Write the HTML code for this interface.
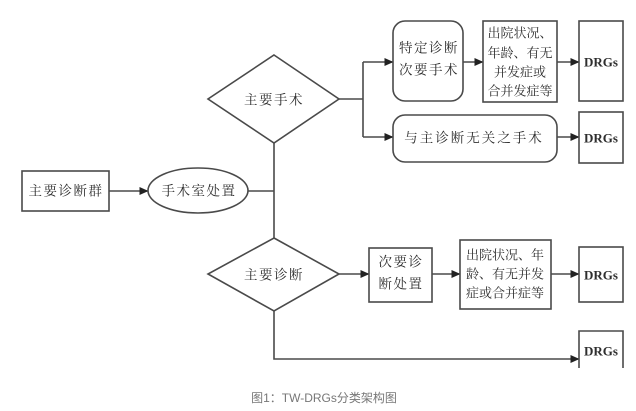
<!DOCTYPE html>
<html>
<head>
<meta charset="utf-8">
<style>
  html, body { margin:0; padding:0; background:#fff; }
  svg { display:block; }
  .t { font-family: "Liberation Serif", "Noto Serif CJK SC", serif; font-size:13.5px; fill:#2e2e2e; letter-spacing:1.5px; }
  .t2 { font-family: "Liberation Serif", "Noto Serif CJK SC", serif; font-size:13px; fill:#2e2e2e; }
  .d { font-family: "Liberation Serif", serif; font-size:13px; fill:#2e2e2e; font-weight:bold; }
  .cap { font-family: "Liberation Sans", "Noto Sans CJK SC", sans-serif; font-size:12px; fill:#777; }
  .s { fill:none; stroke:#4a4a4a; stroke-width:1.6; }
</style>
</head>
<body>
<svg width="636" height="411" viewBox="0 0 636 411" xmlns="http://www.w3.org/2000/svg">
  <defs>
    <marker id="ar" markerWidth="9" markerHeight="8" refX="8.5" refY="4" orient="auto" markerUnits="userSpaceOnUse">
      <path d="M0,0 L9,4 L0,8 Z" fill="#222"/>
    </marker>
  </defs>

  <!-- 主要诊断群 -->
  <rect x="22" y="171" width="87" height="40" class="s"/>
  <text x="66" y="191" class="t" text-anchor="middle" dominant-baseline="central">主要诊断群</text>
  <line x1="109" y1="191" x2="148" y2="191" class="s" marker-end="url(#ar)"/>

  <!-- 手术室处置 -->
  <ellipse cx="198" cy="190.5" rx="50" ry="22.5" class="s"/>
  <text x="199" y="191" class="t" text-anchor="middle" dominant-baseline="central">手术室处置</text>
  <line x1="248" y1="191" x2="274" y2="191" class="s"/>

  <!-- vertical trunk -->
  <line x1="274" y1="143" x2="274" y2="238" class="s"/>

  <!-- 主要手术 diamond -->
  <polygon points="274,55 339,99 274,143 208,99" class="s"/>
  <text x="274" y="100" class="t" text-anchor="middle" dominant-baseline="central">主要手术</text>

  <!-- branch -->
  <polyline points="339,99 363,99" class="s"/>
  <line x1="363" y1="62" x2="363" y2="137" class="s"/>
  <line x1="363" y1="62" x2="393" y2="62" class="s" marker-end="url(#ar)"/>
  <line x1="363" y1="137" x2="393" y2="137" class="s" marker-end="url(#ar)"/>

  <!-- 特定诊断 次要手术 -->
  <rect x="393" y="21" width="70" height="80" rx="12" ry="12" class="s"/>
  <text x="429" y="48" class="t" text-anchor="middle" dominant-baseline="central">特定诊断</text>
  <text x="429" y="70" class="t" text-anchor="middle" dominant-baseline="central">次要手术</text>
  <line x1="463" y1="62" x2="483" y2="62" class="s" marker-end="url(#ar)"/>

  <!-- 出院状况 box top -->
  <rect x="483" y="21" width="74" height="81" class="s"/>
  <text x="520" y="33" class="t2" text-anchor="middle" dominant-baseline="central">出院状况、</text>
  <text x="520" y="53" class="t2" text-anchor="middle" dominant-baseline="central">年龄、有无</text>
  <text x="520" y="72" class="t2" text-anchor="middle" dominant-baseline="central">并发症或</text>
  <text x="520" y="91" class="t2" text-anchor="middle" dominant-baseline="central">合并发症等</text>
  <line x1="557" y1="62" x2="579" y2="62" class="s" marker-end="url(#ar)"/>

  <!-- DRGs 1 -->
  <rect x="579" y="21" width="44" height="80" class="s"/>
  <text x="601" y="62" class="d" text-anchor="middle" dominant-baseline="central">DRGs</text>

  <!-- 与主诊断无关之手术 -->
  <rect x="393" y="115" width="164" height="47" rx="12" ry="12" class="s"/>
  <text x="474" y="138" class="t" text-anchor="middle" dominant-baseline="central" style="letter-spacing:2px">与主诊断无关之手术</text>
  <line x1="557" y1="137" x2="579" y2="137" class="s" marker-end="url(#ar)"/>

  <!-- DRGs 2 -->
  <rect x="579" y="112" width="44" height="51" class="s"/>
  <text x="601" y="138" class="d" text-anchor="middle" dominant-baseline="central">DRGs</text>

  <!-- 主要诊断 diamond -->
  <polygon points="274,238 339,274 274,311 208,274" class="s"/>
  <text x="274" y="275" class="t" text-anchor="middle" dominant-baseline="central">主要诊断</text>
  <line x1="339" y1="274" x2="369" y2="274" class="s" marker-end="url(#ar)"/>

  <!-- 次要诊断处置 -->
  <rect x="369" y="248" width="63" height="54" class="s"/>
  <text x="401" y="262" class="t" text-anchor="middle" dominant-baseline="central">次要诊</text>
  <text x="401" y="284" class="t" text-anchor="middle" dominant-baseline="central">断处置</text>
  <line x1="432" y1="274" x2="460" y2="274" class="s" marker-end="url(#ar)"/>

  <!-- 出院状况 box lower -->
  <rect x="460" y="240" width="91" height="69" class="s"/>
  <text x="505" y="255" class="t2" text-anchor="middle" dominant-baseline="central">出院状况、年</text>
  <text x="505" y="274" class="t2" text-anchor="middle" dominant-baseline="central">龄、有无并发</text>
  <text x="505" y="293" class="t2" text-anchor="middle" dominant-baseline="central">症或合并症等</text>
  <line x1="551" y1="274" x2="579" y2="274" class="s" marker-end="url(#ar)"/>

  <!-- DRGs 3 -->
  <rect x="579" y="247" width="44" height="55" class="s"/>
  <text x="601" y="275" class="d" text-anchor="middle" dominant-baseline="central">DRGs</text>

  <!-- bottom path -->
  <polyline points="274,311 274,359 579,359" class="s" marker-end="url(#ar)"/>

  <!-- DRGs 4 (bottom edge cut) -->
  <polyline points="579,368 579,331 623,331 623,368" class="s"/>
  <text x="601" y="351" class="d" text-anchor="middle" dominant-baseline="central">DRGs</text>

  <!-- caption -->
  <text x="324" y="398" class="cap" text-anchor="middle" dominant-baseline="central">图1：TW-DRGs分类架构图</text>
</svg>
</body>
</html>
